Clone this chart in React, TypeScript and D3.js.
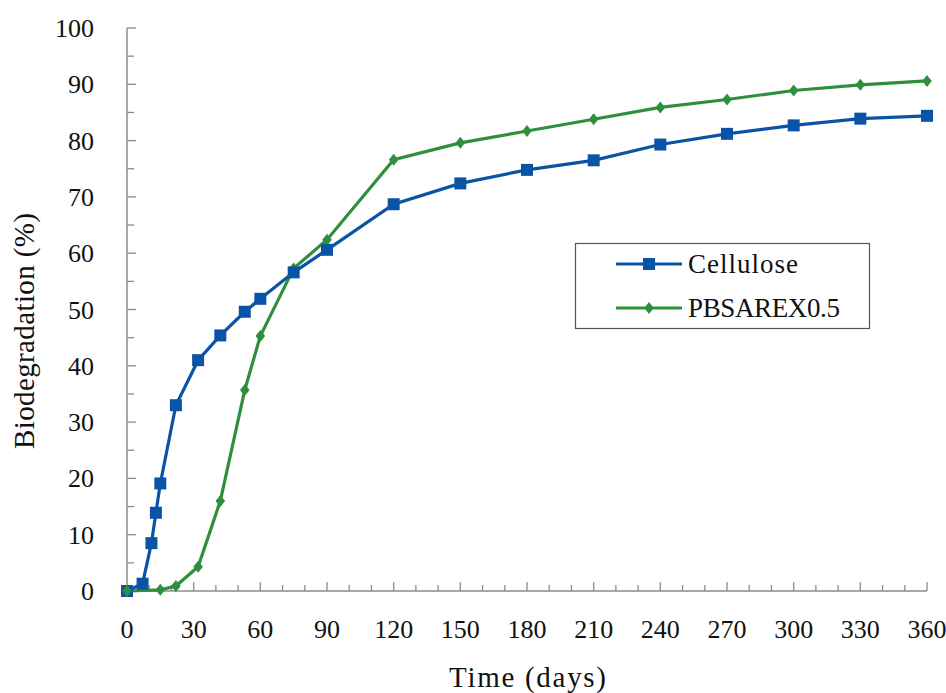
import React from "react"
import * as d3 from "d3"

// days and biodegradation (%)
const celluloseDays = [0, 7, 11, 13, 15, 22, 32, 42, 53, 60, 75, 90, 120, 150, 180, 210, 240, 270, 300, 330, 360]
const celluloseValues = [0, 1.3, 8.5, 13.9, 19.1, 33, 41, 45.4, 49.6, 51.9, 56.6, 60.6, 68.7, 72.4, 74.8, 76.5, 79.3, 81.2, 82.7, 83.9, 84.4]

const pbsDays = [0, 15, 22, 32, 42, 53, 60, 75, 90, 120, 150, 180, 210, 240, 270, 300, 330, 360]
const pbsValues = [0, 0.2, 0.9, 4.3, 16, 35.7, 45.3, 57.3, 62.4, 76.6, 79.6, 81.7, 83.8, 85.9, 87.3, 88.9, 89.9, 90.6]

const xTicks = [0, 30, 60, 90, 120, 150, 180, 210, 240, 270, 300, 330, 360]
const yTicks = [0, 10, 20, 30, 40, 50, 60, 70, 80, 90, 100]

const seriesNames = ["Cellulose", "PBSAREX0.5"]
const BLUE = "#0B53A6"
const GREEN = "#2E8F3D"
const AXIS = "#8c8c8c"
const FONT = "Liberation Serif"

const x = d3.scaleLinear().domain([0, 360]).range([127, 927])
const y = d3.scaleLinear().domain([0, 100]).range([591, 28])

const line = d3.line<number[]>().x((d) => x(d[0])).y((d) => y(d[1]))
const cell = celluloseDays.map((d, i) => [d, celluloseValues[i]])
const pbs = pbsDays.map((d, i) => [d, pbsValues[i]])

const squarePath = d3.symbol().type(d3.symbolSquare).size(144)() as string
const diamondPath = (r: number) => `M0,${-r}L${r * 0.8},0L0,${r}L${-r * 0.8},0Z`

const txt = { fontFamily: FONT, fill: "#111" }

const App = () => {
    const minorX = d3.range(10, 361, 10)
    const minorY = d3.range(0, 101, 5)
    const legendRows = [
        { name: seriesNames[0], color: BLUE, cy: 264, mark: squarePath, len: 110 },
        { name: seriesNames[1], color: GREEN, cy: 308, mark: diamondPath(6), len: 152 },
    ]

    return (
        <svg width={946} height={693} style={{ position: "absolute", left: 0, top: 0, background: "#fff" }}>
            {/* y axis */}
            <line x1={x(0)} x2={x(0)} y1={y(100)} y2={y(0)} stroke={AXIS} strokeWidth={1.5} />
            {minorY.map((d) => (
                <line key={"yt" + d} x1={x(0)} x2={x(0) + (d % 10 === 0 ? 9 : 7)} y1={y(d)} y2={y(d)} stroke={AXIS} strokeWidth={1.3} />
            ))}
            {yTicks.map((d) => (
                <text key={"yl" + d} x={94} y={y(d) + 9} textAnchor="end" style={{ ...txt, fontSize: "26px" }}>
                    {d}
                </text>
            ))}

            {/* x axis */}
            <line x1={x(0)} x2={x(360)} y1={y(0)} y2={y(0)} stroke={AXIS} strokeWidth={1.5} />
            {minorX.map((d) => (
                <line key={"xt" + d} x1={x(d)} x2={x(d)} y1={y(0)} y2={y(0) - (d % 30 === 0 ? 9 : 6)} stroke={AXIS} strokeWidth={1.3} />
            ))}
            {xTicks.map((d) => (
                <text key={"xl" + d} x={x(d)} y={638} textAnchor="middle" style={{ ...txt, fontSize: "26px" }}>
                    {d}
                </text>
            ))}

            {/* axis titles */}
            <text x={449} y={687} textLength={157} lengthAdjust="spacing" style={{ ...txt, fontSize: "29px" }}>
                Time (days)
            </text>
            <text transform="translate(34,449) rotate(-90)" textLength={236} lengthAdjust="spacing" style={{ ...txt, fontSize: "29px" }}>
                Biodegradation (%)
            </text>

            {/* PBSAREX0.5 */}
            <path d={line(pbs) as string} fill="none" stroke={GREEN} strokeWidth={3.2} />
            {pbs.map((d, i) => (
                <path key={"p" + i} transform={`translate(${x(d[0])},${y(d[1])})`} d={diamondPath(6)} fill={GREEN} />
            ))}

            {/* Cellulose */}
            <path d={line(cell) as string} fill="none" stroke={BLUE} strokeWidth={3.2} />
            {cell.map((d, i) => (
                <path key={"c" + i} transform={`translate(${x(d[0])},${y(d[1])})`} d={squarePath} fill={BLUE} />
            ))}
            {/* the first PBS marker sits over the blue square in the reference */}
            <path transform={`translate(${x(pbs[0][0])},${y(pbs[0][1])})`} d={diamondPath(6)} fill={GREEN} />

            {/* legend */}
            <rect x={575.5} y={243.5} width={294} height={85} fill="#fff" stroke="#555" strokeWidth={1.2} />
            {legendRows.map((r) => (
                <g key={r.name}>
                    <line x1={616} x2={682} y1={r.cy} y2={r.cy} stroke={r.color} strokeWidth={3.2} />
                    <path transform={`translate(649,${r.cy})`} d={r.mark} fill={r.color} />
                    <text x={688} y={r.cy + 9} textLength={r.len} lengthAdjust="spacing" style={{ ...txt, fontSize: "27px" }}>
                        {r.name}
                    </text>
                </g>
            ))}
        </svg>
    )
}

export default App
